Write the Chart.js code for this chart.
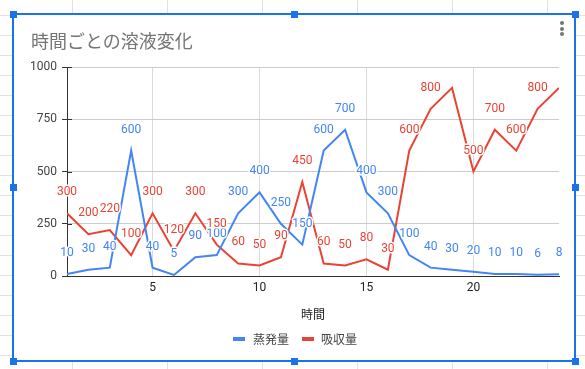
<!DOCTYPE html>
<html><head><meta charset="utf-8">
<script src="https://cdn.jsdelivr.net/npm/chart.js@4.4.1/dist/chart.umd.min.js"></script>
<style>
html,body{margin:0;padding:0;width:585px;height:369px;overflow:hidden;}
body{position:relative;background-color:#fff;
 background-image:linear-gradient(to right,#e2e2e2 1px,transparent 1px),linear-gradient(to bottom,#e2e2e2 1px,transparent 1px);
 background-size:95px 100%,100% 20px;background-position:72px 0,0 15px;
 font-family:Roboto,"Noto Sans CJK JP",sans-serif;}
#panel{position:absolute;left:13px;top:14px;width:562px;height:347px;background:#fff;z-index:0;}
#c{position:absolute;left:0;top:0;z-index:1;}
#frame{position:absolute;left:12px;top:13px;width:560px;height:345px;border:2px solid #1a73e8;z-index:2;}
.h{position:absolute;width:7px;height:7px;background:#1a73e8;z-index:3;}
#title{position:absolute;left:31px;top:30px;font-size:18px;line-height:20px;color:#757575;font-family:"Noto Sans CJK JP",Roboto,sans-serif;z-index:2;white-space:nowrap;}
.dot{position:absolute;width:4px;height:4px;border-radius:50%;background:#757575;z-index:2;}
.sw{position:absolute;width:12px;height:4px;top:337px;z-index:2;}
.lt{position:absolute;top:331px;font-size:12px;line-height:16px;color:#444;font-family:"Noto Sans CJK JP",Roboto,sans-serif;z-index:2;white-space:nowrap;}
</style></head>
<body>
<div id="panel"></div>
<canvas id="c" width="585" height="369"></canvas>
<div id="frame"></div>
<div class="h" style="left:10px;top:11px"></div>
<div class="h" style="left:291px;top:11px"></div>
<div class="h" style="left:572px;top:11px"></div>
<div class="h" style="left:10px;top:184px"></div>
<div class="h" style="left:572px;top:184px"></div>
<div class="h" style="left:10px;top:358px"></div>
<div class="h" style="left:291px;top:358px"></div>
<div class="h" style="left:572px;top:358px"></div>
<div id="title">時間ごとの溶液変化</div>
<div class="dot" style="left:560px;top:21px"></div>
<div class="dot" style="left:560px;top:27px"></div>
<div class="dot" style="left:560px;top:32px"></div>
<div class="sw" style="left:233px;background:#4285f4"></div>
<div class="lt" style="left:253px">蒸発量</div>
<div class="sw" style="left:302px;background:#ea4335"></div>
<div class="lt" style="left:321px">吸収量</div>
<script>
const hours = [1,2,3,4,5,6,7,8,9,10,11,12,13,14,15,16,17,18,19,20,21,22,23,24];
const evaporation = [10,30,40,600,40,5,90,100,300,400,250,150,600,700,400,300,100,40,30,20,10,10,6,8];
const absorption = [300,200,220,100,300,120,300,150,60,50,90,450,60,50,80,30,600,800,900,500,700,600,800,900];
const seriesNames = ['蒸発量','吸収量'];
const xTickValues = [5,10,15,20];
const yTickValues = [0,250,500,750,1000];
const xAxisTitle = '時間';

const toPoints = arr => arr.map((v,i)=>({x:hours[i], y:v}));

const labelPlugin = {
  id:'pointLabels',
  afterDatasetsDraw(chart){
    const ctx = chart.ctx, area = chart.chartArea;
    chart.data.datasets.forEach((ds,i)=>{
      const meta = chart.getDatasetMeta(i);
      meta.data.forEach((pt,j)=>{
        const ly = pt.y - 21;
        if (ly < area.top + 8) return;
        const t = String(ds.data[j].y);
        ctx.save();
        ctx.font = '12px Roboto';
        ctx.textAlign = 'center';
        ctx.textBaseline = 'middle';
        ctx.lineJoin = 'round';
        ctx.lineWidth = 3;
        ctx.strokeStyle = '#fff';
        ctx.strokeText(t, pt.x, ly);
        ctx.fillStyle = ds.borderColor;
        ctx.fillText(t, pt.x, ly);
        ctx.restore();
      });
    });
  }
};
const crossTicks = {
  id:'crossTicks',
  afterDraw(chart){
    const ctx = chart.ctx, y = chart.scales.y, left = chart.chartArea.left;
    ctx.save();
    ctx.strokeStyle = '#333';
    ctx.lineWidth = 1;
    y.ticks.forEach(t=>{
      const py = Math.round(y.getPixelForValue(t.value)) + 0.5;
      ctx.beginPath(); ctx.moveTo(left, py); ctx.lineTo(left+5, py); ctx.stroke();
    });
    ctx.restore();
  }
};

new Chart(document.getElementById('c'), {
  type:'line',
  data:{datasets:[
    {label:seriesNames[0], data:toPoints(evaporation), borderColor:'#4285f4', backgroundColor:'#4285f4', borderWidth:2, pointRadius:0, tension:0},
    {label:seriesNames[1], data:toPoints(absorption), borderColor:'#ea4335', backgroundColor:'#ea4335', borderWidth:2, pointRadius:0, tension:0}
  ]},
  options:{
    responsive:false, animation:false,
    layout:{padding:{left:0, top:67, right:26, bottom:43}},
    plugins:{legend:{display:false}, title:{display:false}, tooltip:{enabled:false}},
    scales:{
      x:{type:'linear', min:1, max:24,
        afterBuildTicks:s=>{s.ticks = xTickValues.map(v=>({value:v}));},
        afterFit:s=>{s.height = 50;},
        grid:{color:'#dadada', drawTicks:false},
        border:{color:'#333'},
        ticks:{padding:5, color:'#222', font:{size:12, family:'Roboto'}, callback:v=>String(v)},
        title:{display:true, text:xAxisTitle, color:'#222', font:{size:12, family:'"Noto Sans CJK JP", Roboto'}, padding:{top:0, bottom:4}}
      },
      y:{min:0, max:1000,
        afterBuildTicks:s=>{s.ticks = yTickValues.map(v=>({value:v}));},
        afterFit:s=>{s.width = 67;},
        grid:{color:'#cccccc', tickColor:'#333', tickLength:5},
        border:{color:'#333'},
        ticks:{padding:5, color:'#444', font:{size:12, family:'Roboto'}, callback:v=>String(v)}
      }
    }
  },
  plugins:[labelPlugin, crossTicks]
});
</script>
</body></html>
